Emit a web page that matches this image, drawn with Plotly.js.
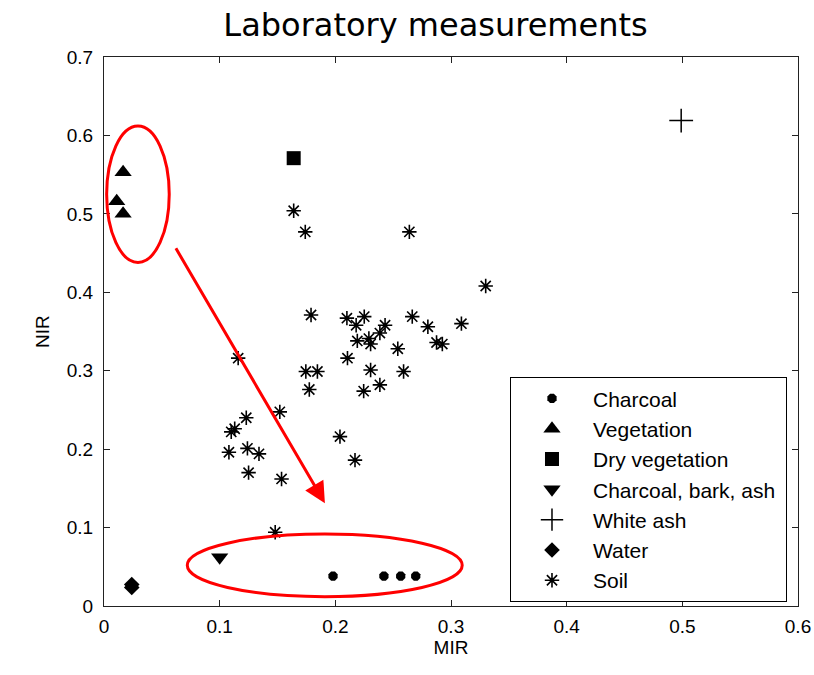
<!DOCTYPE html>
<html>
<head>
<meta charset="utf-8">
<script src="https://cdn.plot.ly/plotly-3.0.1.min.js"></script>
<style>html,body{margin:0;padding:0;background:#fff;}#chart{width:814px;height:675px;}</style>
</head>
<body>
<div id="chart"></div>
<script>
// ---- data ----
const charcoalX = [0.198, 0.242, 0.2565, 0.2695];
const charcoalY = [0.038, 0.038, 0.038, 0.038];

const vegetationX = [0.0165, 0.011, 0.0165];
const vegetationY = [0.553, 0.516, 0.500];

const dryVegX = [0.164];
const dryVegY = [0.571];

const barkAshX = [0.100];
const barkAshY = [0.062];

const whiteAshX = [0.499];
const whiteAshY = [0.619];

const waterX = [0.024, 0.024];
const waterY = [0.0235, 0.0275];

const soilX = [0.164, 0.174, 0.264, 0.330, 0.179, 0.210, 0.225, 0.218, 0.243, 0.2385,
               0.2665, 0.280, 0.309, 0.219, 0.229, 0.2305, 0.2875, 0.2925, 0.254, 0.2105,
               0.1745, 0.1845, 0.2305, 0.259, 0.1775, 0.2245, 0.2385, 0.116, 0.152, 0.123,
               0.110, 0.113, 0.204, 0.108, 0.124, 0.134, 0.125, 0.1535, 0.217, 0.148];
const soilY = [0.504, 0.477, 0.477, 0.408, 0.371, 0.367, 0.369, 0.358, 0.358, 0.348,
               0.369, 0.356, 0.360, 0.338, 0.341, 0.334, 0.336, 0.334, 0.328, 0.316,
               0.299, 0.299, 0.301, 0.299, 0.276, 0.274, 0.282, 0.316, 0.2475, 0.240,
               0.222, 0.226, 0.216, 0.196, 0.201, 0.194, 0.170, 0.162, 0.186, 0.094];

const seriesNames = ['Charcoal', 'Vegetation', 'Dry vegetation', 'Charcoal, bark, ash', 'White ash', 'Water', 'Soil'];
const xTicks = [0, 0.1, 0.2, 0.3, 0.4, 0.5, 0.6];
const yTicks = [0, 0.1, 0.2, 0.3, 0.4, 0.5, 0.6, 0.7];

const pad = '\u00a0';
function tr(x, y, name, sym, size, lw) {
  return {
    x: x, y: y, name: name + pad, type: 'scatter', mode: 'markers',
    marker: {symbol: sym, size: size, color: '#000', line: {color: '#000', width: lw || 0}},
    hoverinfo: 'x+y'
  };
}

const traces = [
  tr(charcoalX, charcoalY, seriesNames[0], 'octagon', 10),
  tr(vegetationX, vegetationY, seriesNames[1], 'triangle-up', 15),
  tr(dryVegX, dryVegY, seriesNames[2], 'square', 14),
  tr(barkAshX, barkAshY, seriesNames[3], 'triangle-down', 15),
  tr(whiteAshX, whiteAshY, seriesNames[4], 'cross-thin', 17, 1.5),
  tr(waterX, waterY, seriesNames[5], 'diamond', 12),
  tr(soilX, soilY, seriesNames[6], 'asterisk-open', 12, 1.6)
];

const axisFont = {family: 'Liberation Sans, Arial, sans-serif', size: 19, color: '#000'};

const layout = {
  width: 814, height: 675,
  margin: {l: 104, r: 16, t: 57, b: 69, pad: 0},
  paper_bgcolor: '#fff', plot_bgcolor: '#fff',
  font: axisFont,
  title: {
    text: 'Laboratory measurements',
    font: {family: 'DejaVu Sans, Verdana, sans-serif', size: 32, color: '#000'},
    xref: 'paper', x: 0.4777, xanchor: 'center',
    yref: 'container', y: 0.963, yanchor: 'middle'
  },
  xaxis: {
    range: [0, 0.6], tickvals: xTicks, ticktext: xTicks.map(String),
    ticks: 'inside', ticklen: 6, tickcolor: '#222', tickwidth: 1,
    showline: true, linecolor: '#222', linewidth: 1, mirror: 'ticks',
    showgrid: false, zeroline: false, tickfont: axisFont, ticklabelstandoff: 3,
    title: {text: 'MIR', font: axisFont, standoff: 4}
  },
  yaxis: {
    range: [0, 0.7], tickvals: yTicks, ticktext: yTicks.map(String),
    ticks: 'inside', ticklen: 6, tickcolor: '#222', tickwidth: 1,
    showline: true, linecolor: '#222', linewidth: 1, mirror: 'ticks',
    showgrid: false, zeroline: false, tickfont: axisFont, ticklabelstandoff: 6,
    title: {text: 'NIR', font: axisFont, standoff: 12}
  },
  legend: {
    x: 0.585, y: 0.4166, xanchor: 'left', yanchor: 'top',
    bordercolor: '#000', borderwidth: 1, bgcolor: '#fff',
    font: {family: 'Liberation Sans, Arial, sans-serif', size: 21, color: '#000'},
    itemwidth: 72, tracegroupgap: 0
  },
  showlegend: true,
  shapes: [
    {type: 'circle', xref: 'x', yref: 'y', x0: 0.0023, x1: 0.0564, y0: 0.438, y1: 0.612,
     line: {color: '#ff0000', width: 3}},
    {type: 'circle', xref: 'x', yref: 'y', x0: 0.072, x1: 0.3097, y0: 0.0119, y1: 0.0918,
     line: {color: '#ff0000', width: 3}}
  ],
  annotations: [
    {x: 0.191, y: 0.131, xref: 'x', yref: 'y', ax: 0.0614, ay: 0.458, axref: 'x', ayref: 'y',
     text: '', showarrow: true, arrowhead: 2, arrowsize: 1.4, arrowwidth: 3, arrowcolor: '#ff0000', standoff: 0}
  ]
};

Plotly.newPlot('chart', traces, layout, {displayModeBar: false, staticPlot: true});
</script>
</body>
</html>
